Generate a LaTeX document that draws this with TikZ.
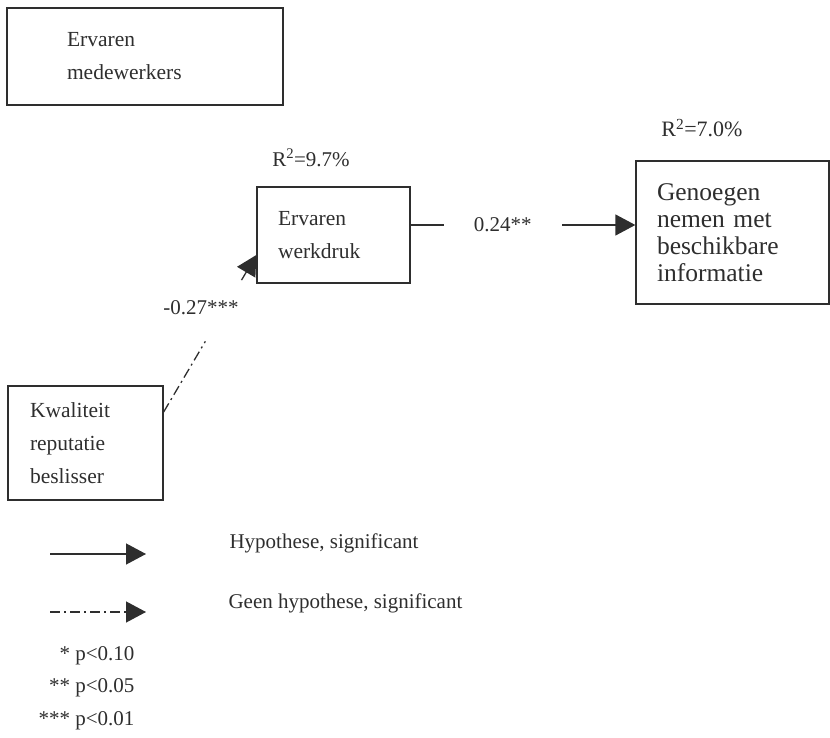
\documentclass[tikz,border=0pt]{standalone}
\usepackage{fontspec}
\setmainfont{Liberation Serif}
\usetikzlibrary{arrows.meta}
\definecolor{ink}{gray}{0.18}
\tikzset{
  box/.style={draw=ink, line width=1.3pt, text=ink, align=left,
    font=\fontsize{21.5}{33}\selectfont},
  lbl/.style={text=ink, font=\fontsize{21}{32.5}\selectfont},
  hyp/.style={draw=ink, line width=1.3pt, -{Triangle[length=20pt,width=21pt]}},
  nohyp/.style={hyp, dash pattern=on 10pt off 4pt on 2pt off 4pt},
}
\begin{document}
\begin{tikzpicture}[x=1pt,y=-1pt]
      \useasboundingbox (0,0) rectangle (830,738);

      % Boxes
      \node[box, text width=156pt, inner xsep=60pt, minimum height=97pt] (em) at (145,56.5) {Ervaren\\medewerkers};
      \node[box, text width=111pt, inner xsep=21pt, minimum height=96pt] (ew) at (333.5,235) {Ervaren\\werkdruk};
      \node[box, text width=151pt, inner xsep=21pt, minimum height=143pt,
            font=\fontsize{25.5}{27}\selectfont] (gn) at (732.5,232.5) {Genoegen\\nemen met\\beschikbare\\informatie};
      \node[box, text width=111pt, inner xsep=22pt, minimum height=114pt] (kw) at (85.5,443) {Kwaliteit\\reputatie\\beslisser};

      % Explained variance
      \node[lbl] (r1) at (311,158) {R\textsuperscript{2}=9.7\%};
      \node[lbl, font=\fontsize{22}{26}\selectfont] (r2) at (702,128) {R\textsuperscript{2}=7.0\%};

      % Paths
      \coordinate (a1) at ([yshift=10pt]ew.east);
      \draw[hyp] (a1) -- node[pos=0.41, fill=white, minimum width=118pt, lbl] (c1) {0.24**} (a1 -| gn.west);

      \coordinate (b1) at ([yshift=31pt]kw.east);
      \coordinate (b2) at ([yshift=-20pt]ew.west);
      \path (b1) -- coordinate[pos=0.45] (g1) coordinate[pos=0.84] (g2) (b2);
      \draw[nohyp, -] (b1) -- (g1);
      \draw[nohyp] (g2) -- (b2);
      \node[lbl] (c2) at (201,308) {-0.27***};

      % Legend
      \coordinate (l1a) at (50,554);
      \coordinate (l1b) at (146,554);
      \coordinate (l2a) at (50,612);
      \coordinate (l2b) at (146,612);
      \draw[hyp] (l1a) -- (l1b);
      \draw[nohyp] (l2a) -- (l2b);
      \node[lbl, anchor=west] (t1) at (226,543) {Hypothese, significant};
      \node[lbl, anchor=west] (t2) at (225,603) {Geen hypothese, significant};
      \node[lbl, align=right, anchor=east] (pv) at (138,688) {* p<0.10\\** p<0.05\\*** p<0.01};
\end{tikzpicture}
\end{document}
